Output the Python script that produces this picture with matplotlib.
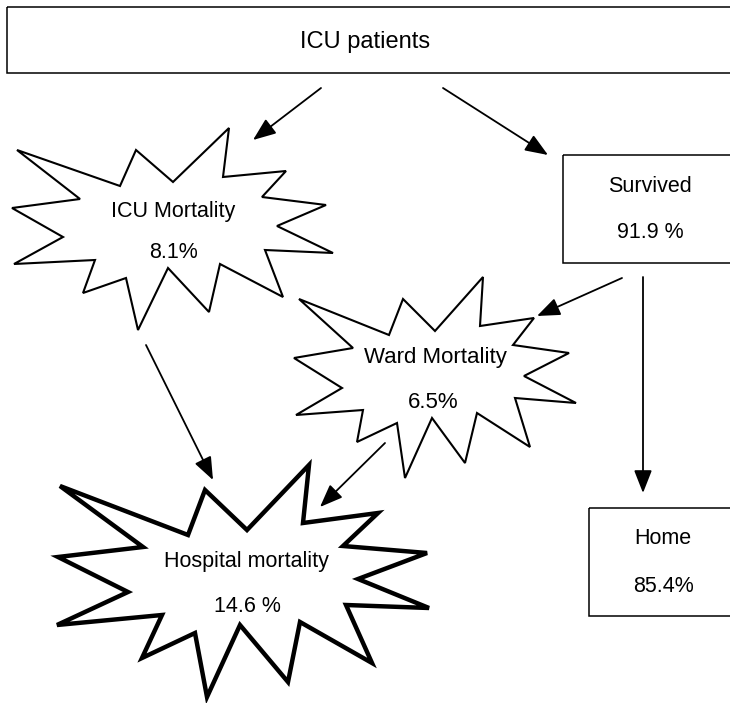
import matplotlib
matplotlib.use("Agg")
import matplotlib.pyplot as plt
from matplotlib.patches import Polygon, Rectangle

plt.rcParams['font.family'] = ['Liberation Sans', 'DejaVu Sans']

# ---- content ----
title_label = "ICU patients"
box_labels = ["Survived", "Home"]
box_values = ["91.9 %", "85.4%"]
star_labels = ["ICU Mortality", "Ward Mortality", "Hospital mortality"]
star_values = ["8.1%", "6.5%", "14.6 %"]

# ---- geometry (pixel coordinates, y downward) ----
W, H = 730, 703
fig = plt.figure(figsize=(W / 100, H / 100), dpi=100)
ax = fig.add_axes([0, 0, 1, 1])
ax.set_xlim(0, W)
ax.set_ylim(H, 0)
ax.axis('off')

# Top box
ax.add_patch(Rectangle((7, 7), 740, 66, fill=False, lw=1.1, ec='k'))
ax.text(365, 42, title_label, ha='center', va='center', fontsize=17)

# Survived / Home boxes
boxes = [(563, 155, 180, 108), (589, 508, 150, 108)]
box_text_pos = [((650, 187), (650, 232)), ((663, 539), (663, 587))]
for (x, y, w, h), lab, val, (p1, p2) in zip(boxes, box_labels, box_values, box_text_pos):
    ax.add_patch(Rectangle((x, y), w, h, fill=False, lw=1.1, ec='k'))
    ax.text(*p1, lab, ha='center', va='center', fontsize=15.5)
    ax.text(*p2, val, ha='center', va='center', fontsize=15.5)

# Stars (outline vertices)
star_icu = [(17, 150), (120, 186), (136, 150), (173, 182), (229, 128), (223, 177),
            (286, 171), (262, 197), (326, 205), (277, 226), (333, 253), (265, 250),
            (283, 297), (220, 264), (209, 312), (168, 268), (138, 330), (126, 278),
            (83, 293), (95, 260), (14, 264), (63, 237), (12, 208), (80, 199)]
star_ward = [(299, 299), (389, 335), (403, 299), (435, 331), (483, 277), (480, 326),
             (534, 318), (513, 345), (569, 353), (524, 376), (576, 403), (515, 398),
             (530, 447), (477, 413), (465, 463), (432, 418), (405, 478), (397, 423),
             (357, 442), (363, 410), (296, 415), (342, 388), (294, 358), (353, 348)]
star_hosp = [(60, 486), (188, 535), (205, 490), (247, 530), (309, 465), (303, 523),
             (378, 513), (343, 546), (427, 553), (358, 579), (429, 608), (346, 605),
             (372, 663), (300, 622), (288, 682), (240, 625), (207, 697), (195, 633),
             (142, 658), (162, 615), (57, 625), (128, 592), (58, 557), (143, 547)]
stars = [star_icu, star_ward, star_hosp]
star_lw = [1.5, 1.5, 3.2]
star_text_pos = [((173, 211), (173, 252)), ((435, 358), (433, 403)), ((246, 562), (247, 606))]
star_fs = [15.5, 16, 15.5]
for verts, lw, lab, val, (p1, p2), fs in zip(stars, star_lw, star_labels, star_values,
                                             star_text_pos, star_fs):
    ax.add_patch(Polygon(verts, closed=True, fc='white', ec='k', lw=lw, joinstyle='miter'))
    ax.text(*p1, lab, ha='center', va='center', fontsize=fs)
    ax.text(*p2, val, ha='center', va='center', fontsize=fs)

# Arrows (start, tip)
arrows = [((321, 88), (253, 140)),
          ((443, 88), (548, 155)),
          ((622, 278), (537, 316)),
          ((643, 277), (643, 493)),
          ((146, 345), (213, 480)),
          ((385, 443), (320, 507))]
for start, tip in arrows:
    ax.annotate('', xy=tip, xytext=start,
                arrowprops=dict(arrowstyle='-|>,head_length=1.4,head_width=0.55',
                                mutation_scale=10, lw=1.3, color='k',
                                shrinkA=0, shrinkB=0))

fig.savefig('out.png', dpi=100, facecolor='white')
